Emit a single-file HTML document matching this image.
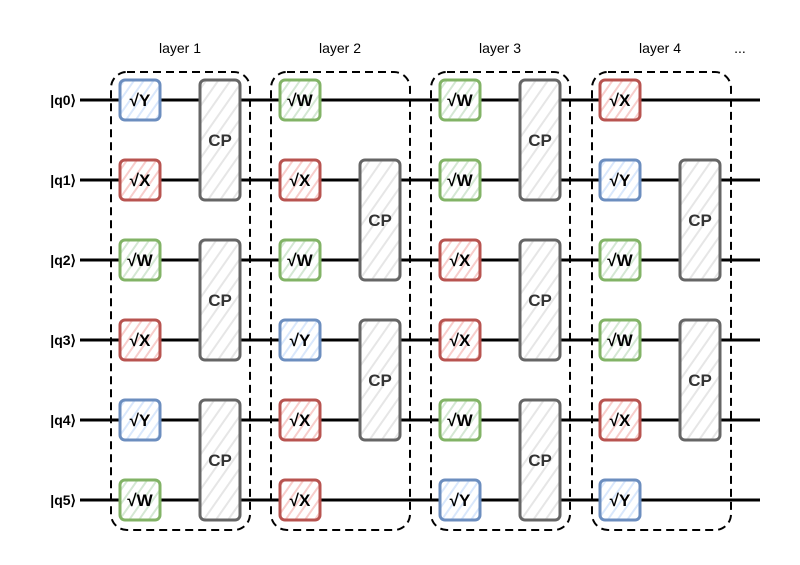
<!DOCTYPE html>
<html><head><meta charset="utf-8"><style>
html,body{margin:0;padding:0;background:#fff}
text{font-family:"Liberation Sans",sans-serif}
</style></head><body>
<svg width="800" height="560" viewBox="0 0 800 560" xmlns="http://www.w3.org/2000/svg">
<defs>
<pattern id="hb" width="8" height="8" patternUnits="userSpaceOnUse" patternTransform="rotate(-55)"><rect width="8" height="8" fill="#fff"/><line x1="0" y1="4" x2="8" y2="4" stroke="#dae8fc" stroke-width="2"/></pattern>
<pattern id="hr" width="8" height="8" patternUnits="userSpaceOnUse" patternTransform="rotate(-55)"><rect width="8" height="8" fill="#fff"/><line x1="0" y1="4" x2="8" y2="4" stroke="#f8cecc" stroke-width="2"/></pattern>
<pattern id="hg" width="8" height="8" patternUnits="userSpaceOnUse" patternTransform="rotate(-55)"><rect width="8" height="8" fill="#fff"/><line x1="0" y1="4" x2="8" y2="4" stroke="#d5e8d4" stroke-width="2"/></pattern>
<pattern id="hc" width="10" height="10" patternUnits="userSpaceOnUse" patternTransform="rotate(-55)"><rect width="10" height="10" fill="#fff"/><line x1="0" y1="5" x2="10" y2="5" stroke="#e6e6e6" stroke-width="2"/></pattern>
</defs>
<g stroke="#000" stroke-width="3">
<line x1="80" y1="100" x2="760" y2="100"/><line x1="80" y1="180" x2="760" y2="180"/>
<line x1="80" y1="260" x2="760" y2="260"/><line x1="80" y1="340" x2="760" y2="340"/>
<line x1="80" y1="420" x2="760" y2="420"/><line x1="80" y1="500" x2="760" y2="500"/>
</g>
<g font-size="14" font-weight="bold" text-anchor="end" fill="#000">
<text x="76" y="105">|q0⟩</text><text x="76" y="185">|q1⟩</text><text x="76" y="265">|q2⟩</text>
<text x="76" y="345">|q3⟩</text><text x="76" y="425">|q4⟩</text><text x="76" y="505">|q5⟩</text>
</g>
<g font-size="14" text-anchor="middle" fill="#000">
<text x="180" y="53">layer 1</text><text x="340" y="53">layer 2</text><text x="500" y="53">layer 3</text><text x="660" y="53">layer 4</text><text x="740" y="53">...</text>
</g>
<g fill="none" stroke="#000" stroke-width="2" stroke-dasharray="8 5">
<rect x="111" y="72" width="139" height="458" rx="16"/>
<rect x="271" y="72" width="139" height="458" rx="16"/>
<rect x="431" y="72" width="139" height="458" rx="16"/>
<rect x="592" y="72" width="139" height="458" rx="16"/>
</g>
<g stroke="#666" stroke-width="3" fill="url(#hc)">
<rect x="200" y="80" width="40" height="120" rx="5"/><rect x="200" y="240" width="40" height="120" rx="5"/><rect x="200" y="400" width="40" height="120" rx="5"/>
<rect x="360" y="160" width="40" height="120" rx="5"/><rect x="360" y="320" width="40" height="120" rx="5"/>
<rect x="520" y="80" width="40" height="120" rx="5"/><rect x="520" y="240" width="40" height="120" rx="5"/><rect x="520" y="400" width="40" height="120" rx="5"/>
<rect x="680" y="160" width="40" height="120" rx="5"/><rect x="680" y="320" width="40" height="120" rx="5"/>
</g>
<g font-size="17" font-weight="bold" fill="#333" text-anchor="middle">
<text x="220" y="146">CP</text><text x="220" y="306">CP</text><text x="220" y="466">CP</text>
<text x="380" y="226">CP</text><text x="380" y="386">CP</text>
<text x="540" y="146">CP</text><text x="540" y="306">CP</text><text x="540" y="466">CP</text>
<text x="700" y="226">CP</text><text x="700" y="386">CP</text>
</g>
<g stroke-width="3">
<!-- layer1 -->
<rect x="120" y="80" width="40" height="40" rx="5" stroke="#6c8ebf" fill="url(#hb)"/>
<rect x="120" y="160" width="40" height="40" rx="5" stroke="#b85450" fill="url(#hr)"/>
<rect x="120" y="240" width="40" height="40" rx="5" stroke="#82b366" fill="url(#hg)"/>
<rect x="120" y="320" width="40" height="40" rx="5" stroke="#b85450" fill="url(#hr)"/>
<rect x="120" y="400" width="40" height="40" rx="5" stroke="#6c8ebf" fill="url(#hb)"/>
<rect x="120" y="480" width="40" height="40" rx="5" stroke="#82b366" fill="url(#hg)"/>
<!-- layer2 -->
<rect x="280" y="80" width="40" height="40" rx="5" stroke="#82b366" fill="url(#hg)"/>
<rect x="280" y="160" width="40" height="40" rx="5" stroke="#b85450" fill="url(#hr)"/>
<rect x="280" y="240" width="40" height="40" rx="5" stroke="#82b366" fill="url(#hg)"/>
<rect x="280" y="320" width="40" height="40" rx="5" stroke="#6c8ebf" fill="url(#hb)"/>
<rect x="280" y="400" width="40" height="40" rx="5" stroke="#b85450" fill="url(#hr)"/>
<rect x="280" y="480" width="40" height="40" rx="5" stroke="#b85450" fill="url(#hr)"/>
<!-- layer3 -->
<rect x="440" y="80" width="40" height="40" rx="5" stroke="#82b366" fill="url(#hg)"/>
<rect x="440" y="160" width="40" height="40" rx="5" stroke="#82b366" fill="url(#hg)"/>
<rect x="440" y="240" width="40" height="40" rx="5" stroke="#b85450" fill="url(#hr)"/>
<rect x="440" y="320" width="40" height="40" rx="5" stroke="#b85450" fill="url(#hr)"/>
<rect x="440" y="400" width="40" height="40" rx="5" stroke="#82b366" fill="url(#hg)"/>
<rect x="440" y="480" width="40" height="40" rx="5" stroke="#6c8ebf" fill="url(#hb)"/>
<!-- layer4 -->
<rect x="600" y="80" width="40" height="40" rx="5" stroke="#b85450" fill="url(#hr)"/>
<rect x="600" y="160" width="40" height="40" rx="5" stroke="#6c8ebf" fill="url(#hb)"/>
<rect x="600" y="240" width="40" height="40" rx="5" stroke="#82b366" fill="url(#hg)"/>
<rect x="600" y="320" width="40" height="40" rx="5" stroke="#82b366" fill="url(#hg)"/>
<rect x="600" y="400" width="40" height="40" rx="5" stroke="#b85450" fill="url(#hr)"/>
<rect x="600" y="480" width="40" height="40" rx="5" stroke="#6c8ebf" fill="url(#hb)"/>
</g>
<g font-size="17" font-weight="bold" fill="#000" text-anchor="middle">
<text x="140" y="106">√Y</text><text x="140" y="186">√X</text><text x="140" y="266">√W</text><text x="140" y="346">√X</text><text x="140" y="426">√Y</text><text x="140" y="506">√W</text>
<text x="300" y="106">√W</text><text x="300" y="186">√X</text><text x="300" y="266">√W</text><text x="300" y="346">√Y</text><text x="300" y="426">√X</text><text x="300" y="506">√X</text>
<text x="460" y="106">√W</text><text x="460" y="186">√W</text><text x="460" y="266">√X</text><text x="460" y="346">√X</text><text x="460" y="426">√W</text><text x="460" y="506">√Y</text>
<text x="620" y="106">√X</text><text x="620" y="186">√Y</text><text x="620" y="266">√W</text><text x="620" y="346">√W</text><text x="620" y="426">√X</text><text x="620" y="506">√Y</text>
</g>
</svg>
</body></html>
